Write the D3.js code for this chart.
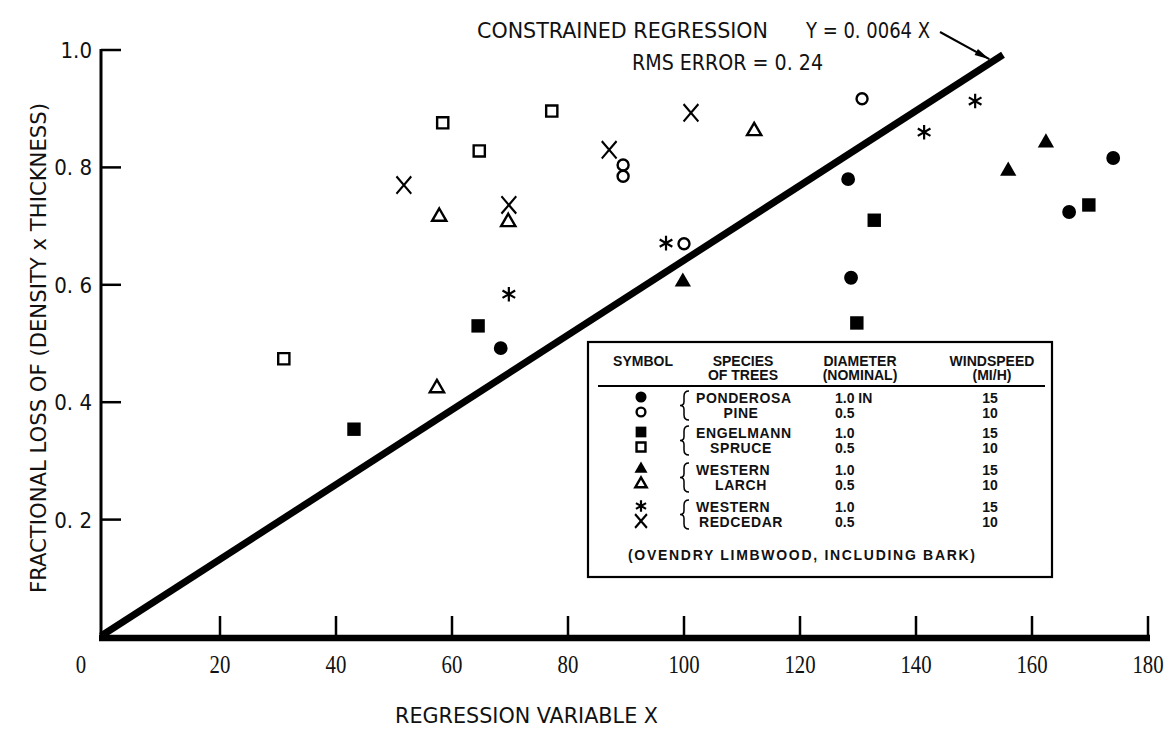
<!DOCTYPE html>
<html><head><meta charset="utf-8">
<script src="https://cdn.jsdelivr.net/npm/d3@7"></script>
<style>body{margin:0;background:#fff}</style>
</head><body><svg id="c" width="1167" height="731"></svg>
<script>
// ---------- data ----------
const xTickValues = [0, 20, 40, 60, 80, 100, 120, 140, 160, 180];
const xTickLabels = ["0", "20", "40", "60", "80", "100", "120", "140", "160", "180"];
const yTickValues = [0.2, 0.4, 0.6, 0.8, 1.0];
const yTickLabels = ["0. 2", "0. 4", "0. 6", "0. 8", "1.0"];
const regressionSlope = 0.0064;
const regressionXEnd = 155;
const arrowTargetX = 153;
const titleLine1 = "CONSTRAINED REGRESSION";
const titleEquation = "Y = 0. 0064 X";
const titleLine2 = "RMS ERROR = 0. 24";
const xAxisTitle = "REGRESSION VARIABLE X";
const yAxisTitle = "FRACTIONAL LOSS OF (DENSITY x THICKNESS)";

// [X, Y] pairs per series
const ponderosa10 = [[68.4, 0.492], [128.3, 0.780], [128.8, 0.612], [166.4, 0.724], [174.0, 0.816]];
const ponderosa05 = [[100.0, 0.670], [130.7, 0.917], [89.5, 0.804], [89.5, 0.785]];
const engelmann10 = [[43.1, 0.354], [64.5, 0.530], [132.8, 0.710], [129.8, 0.535], [169.8, 0.736]];
const engelmann05 = [[31.0, 0.474], [58.4, 0.876], [64.7, 0.828], [77.2, 0.896]];
const larch10 = [[99.8, 0.605], [155.9, 0.794], [162.4, 0.842]];
const larch05 = [[57.8, 0.716], [69.7, 0.707], [57.4, 0.424], [112.1, 0.862]];
const redcedar10 = [[69.8, 0.584], [96.9, 0.671], [141.4, 0.860], [150.2, 0.913]];
const redcedar05 = [[51.7, 0.770], [69.8, 0.736], [87.1, 0.830], [101.2, 0.893]];

const legendHeader1 = ["SYMBOL", "SPECIES", "DIAMETER", "WINDSPEED"];
const legendHeader2 = ["", "OF TREES", "(NOMINAL)", "(MI/H)"];
const speciesFirst = ["PONDEROSA", "ENGELMANN", "WESTERN", "WESTERN"];
const speciesSecond = ["PINE", "SPRUCE", "LARCH", "REDCEDAR"];
const diameterLabels = ["1.0 IN", "0.5", "1.0", "0.5", "1.0", "0.5", "1.0", "0.5"];
const windspeedLabels = ["15", "10", "15", "10", "15", "10", "15", "10"];
const legendNote = "(OVENDRY LIMBWOOD, INCLUDING BARK)";

const series = [
  {data: ponderosa10, shape: "circle", filled: true},
  {data: ponderosa05, shape: "circle", filled: false},
  {data: engelmann10, shape: "square", filled: true},
  {data: engelmann05, shape: "square", filled: false},
  {data: larch10, shape: "triangle", filled: true},
  {data: larch05, shape: "triangle", filled: false},
  {data: redcedar10, shape: "asterisk", filled: true},
  {data: redcedar05, shape: "times", filled: false}
];

// ---------- drawing ----------
const svg = d3.select("#c");
svg.append("rect").attr("width", 1167).attr("height", 731).attr("fill", "#fff");

const x = d3.scaleLinear().domain([0, 180]).range([104, 1148]);
const y = d3.scaleLinear().domain([0, 1]).range([637, 50]);

const condensed = "'DejaVu Sans Condensed','DejaVu Sans',sans-serif";

// y axis
const yAxisX = x(0) - 3;
svg.append("line").attr("x1", yAxisX).attr("x2", yAxisX)
  .attr("y1", y(1) - 1).attr("y2", y(0)).attr("stroke", "#000").attr("stroke-width", 3);
svg.selectAll(".ytick").data(yTickValues).join("line")
  .attr("x1", yAxisX).attr("x2", yAxisX + 20)
  .attr("y1", d => y(d)).attr("y2", d => y(d))
  .attr("stroke", "#000").attr("stroke-width", 2.5);
svg.selectAll(".ylab").data(yTickValues).join("text")
  .attr("x", 92).attr("y", d => y(d) + 8)
  .attr("text-anchor", "end")
  .attr("font-family", condensed).attr("font-stretch", "condensed")
  .attr("font-size", 22).attr("fill", "#111")
  .text((d, i) => yTickLabels[i]);

// x axis
svg.append("line").attr("x1", yAxisX - 2).attr("x2", x(180) + 2)
  .attr("y1", y(0) + 1).attr("y2", y(0) + 1)
  .attr("stroke", "#000").attr("stroke-width", 6.5);
svg.selectAll(".xtick").data(xTickValues.filter(d => d > 0)).join("line")
  .attr("x1", d => x(d)).attr("x2", d => x(d))
  .attr("y1", y(0)).attr("y2", y(0) - 21)
  .attr("stroke", "#000").attr("stroke-width", 2.5);
svg.selectAll(".xlab").data(xTickValues).join("text")
  .attr("transform", d => `translate(${x(d) + (d === 0 ? -23 : 0)},673) scale(0.8,1)`)
  .attr("text-anchor", "middle")
  .attr("font-family", "'Liberation Serif','DejaVu Serif',serif")
  .attr("font-size", 26).attr("fill", "#111")
  .text((d, i) => xTickLabels[i]);

// axis titles
svg.append("text").attr("x", 395).attr("y", 723)
  .attr("font-family", condensed).attr("font-stretch", "condensed")
  .attr("font-size", 21).attr("fill", "#111")
  .attr("textLength", 263).attr("lengthAdjust", "spacingAndGlyphs")
  .text(xAxisTitle);
svg.append("text").attr("transform", "translate(45.5,348) rotate(-90)")
  .attr("text-anchor", "middle")
  .attr("font-family", condensed).attr("font-stretch", "condensed")
  .attr("font-size", 21).attr("fill", "#111")
  .attr("textLength", 490).attr("lengthAdjust", "spacingAndGlyphs")
  .text(yAxisTitle);

// regression line
svg.append("line")
  .attr("x1", x(0) - 3).attr("y1", y(0) - 1)
  .attr("x2", x(regressionXEnd)).attr("y2", y(regressionSlope * regressionXEnd))
  .attr("stroke", "#000").attr("stroke-width", 7);

// title
const titleG = svg.append("g").attr("font-family", condensed).attr("font-stretch", "condensed")
  .attr("font-size", 21).attr("fill", "#111");
titleG.append("text").attr("x", 477).attr("y", 38)
  .attr("textLength", 291).attr("lengthAdjust", "spacingAndGlyphs").text(titleLine1);
titleG.append("text").attr("x", 806).attr("y", 38)
  .attr("textLength", 124).attr("lengthAdjust", "spacingAndGlyphs").text(titleEquation);
titleG.append("text").attr("x", 632).attr("y", 70)
  .attr("textLength", 191).attr("lengthAdjust", "spacingAndGlyphs").text(titleLine2);

// arrow
const tip = [x(arrowTargetX) - 2, y(regressionSlope * arrowTargetX) - 3];
const start = [940, 32];
svg.append("line").attr("x1", start[0]).attr("y1", start[1])
  .attr("x2", tip[0]).attr("y2", tip[1]).attr("stroke", "#000").attr("stroke-width", 2);
{
  const dx = tip[0] - start[0], dy = tip[1] - start[1];
  const L = Math.hypot(dx, dy), ux = dx / L, uy = dy / L;
  const hl = 15, hw = 3.5;
  const bx = tip[0] - ux * hl, by = tip[1] - uy * hl;
  svg.append("path")
    .attr("d", `M${tip[0]},${tip[1]}L${bx - uy * hw},${by + ux * hw}L${bx + uy * hw},${by - ux * hw}Z`)
    .attr("fill", "#000");
}

// markers
const symbolTypes = {
  circle: d3.symbolCircle, square: d3.symbolSquare, triangle: d3.symbolTriangle,
  asterisk: d3.symbolAsterisk, times: d3.symbolTimes
};
const symbolSizes = {
  circle: [150, 95], square: [180, 125], triangle: [115, 88], asterisk: [150, 150], times: [200, 200]
};
function drawMarker(g, s, cx, cy, k) {
  const size = symbolSizes[s.shape][s.filled ? 0 : 1];
  const p = d3.symbol().type(symbolTypes[s.shape]).size(size)();
  const stroked = !s.filled || s.shape === "asterisk" || s.shape === "times";
  const sx = s.shape === "times" ? 0.85 * k : k;
  g.append("path").attr("d", p)
    .attr("transform", `translate(${cx},${cy}) scale(${sx},${k})`)
    .attr("fill", (s.filled && !stroked) ? "#000" : "none")
    .attr("stroke", stroked ? "#000" : "none")
    .attr("stroke-width", (s.shape === "asterisk" ? 2.2 : 2.4) / k);
}
const markG = svg.append("g");
series.forEach(s => s.data.forEach(d => drawMarker(markG, s, x(d[0]), y(d[1]), 1)));

// legend
const lg = svg.append("g");
lg.append("rect").attr("x", 588).attr("y", 342).attr("width", 464).attr("height", 235)
  .attr("fill", "#fff").attr("stroke", "#000").attr("stroke-width", 2.2);
const lfont = "'Liberation Sans',Arial,sans-serif";
const colX = [643, 743, 860, 992];
const hdr = lg.append("g").attr("font-family", lfont).attr("font-weight", "bold")
  .attr("font-size", 14).attr("fill", "#111").attr("text-anchor", "middle");
legendHeader1.forEach((t, i) => hdr.append("text").attr("x", colX[i]).attr("y", 366).text(t));
legendHeader2.forEach((t, i) => hdr.append("text").attr("x", colX[i]).attr("y", 380).text(t));
lg.append("line").attr("x1", 598).attr("x2", 1045).attr("y1", 386).attr("y2", 386)
  .attr("stroke", "#000").attr("stroke-width", 2);

const rowBase = [403, 418, 438, 453, 475, 490, 512, 527];
const body = lg.append("g").attr("font-family", lfont).attr("font-weight", "bold")
  .attr("font-size", 14).attr("fill", "#111");
series.forEach((s, i) => {
  drawMarker(lg, s, 641, rowBase[i] - 6, 0.8);
  body.append("text").attr("x", 835).attr("y", rowBase[i]).text(diameterLabels[i]);
  body.append("text").attr("x", 990).attr("y", rowBase[i]).attr("text-anchor", "middle").text(windspeedLabels[i]);
});
speciesFirst.forEach((t, j) => {
  const b1 = rowBase[2 * j], b2 = rowBase[2 * j + 1];
  body.append("text").attr("x", 696).attr("y", b1).attr("letter-spacing", 0.6).text(t);
  body.append("text").attr("x", 741).attr("y", b2).attr("text-anchor", "middle").attr("letter-spacing", 0.6).text(speciesSecond[j]);
  const top = b1 - 12, bot = b2 + 2, mid = (top + bot) / 2;
  lg.append("path")
    .attr("d", `M689,${top} Q684,${top} 684,${top + 5} L684,${mid - 4} Q684,${mid} 680,${mid} Q684,${mid} 684,${mid + 4} L684,${bot - 5} Q684,${bot} 689,${bot}`)
    .attr("fill", "none").attr("stroke", "#000").attr("stroke-width", 1.5);
});
body.append("text").attr("x", 628).attr("y", 560)
  .attr("textLength", 347).attr("lengthAdjust", "spacing").text(legendNote);
</script></body></html>
